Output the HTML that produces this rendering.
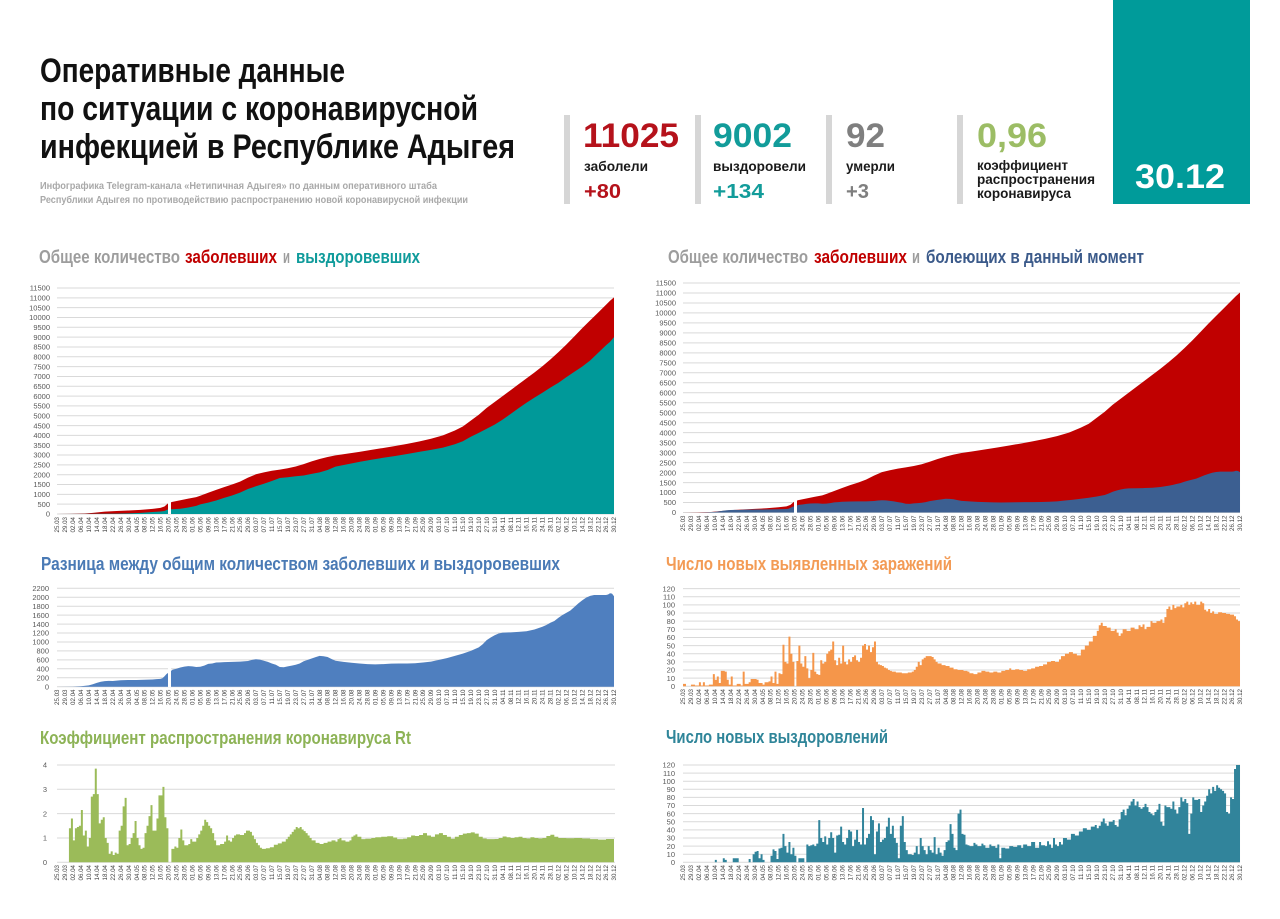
<!DOCTYPE html>
<html>
<head>
<meta charset="utf-8">
<style>
html,body{margin:0;padding:0;background:#fff;}
svg{display:block;}
text{font-family:"Liberation Sans","DejaVu Sans",sans-serif;}
</style>
</head>
<body>
<svg xmlns="http://www.w3.org/2000/svg" width="1280" height="919" viewBox="0 0 1280 919">
<rect x="0" y="0" width="1280" height="919" fill="#ffffff"/>

<!-- HEADER -->
<g font-weight="bold" fill="#111">
<text x="40" y="82" font-size="34" textLength="305" lengthAdjust="spacingAndGlyphs">Оперативные данные</text>
<text x="40" y="120" font-size="34" textLength="438" lengthAdjust="spacingAndGlyphs">по ситуации с коронавирусной</text>
<text x="40" y="158" font-size="34" textLength="475" lengthAdjust="spacingAndGlyphs">инфекцией в Республике Адыгея</text>
</g>
<g font-weight="bold" fill="#a9a9a9" font-size="10">
<text x="40" y="189" textLength="397" lengthAdjust="spacingAndGlyphs">Инфографика Telegram-канала «Нетипичная Адыгея» по данным оперативного штаба</text>
<text x="40" y="203" textLength="428" lengthAdjust="spacingAndGlyphs">Республики Адыгея по противодействию распространению новой коронавирусной инфекции</text>
</g>

<g fill="#d6d6d6">
<rect x="564" y="115" width="6" height="89"/>
<rect x="695" y="115" width="6" height="89"/>
<rect x="826" y="115" width="6" height="89"/>
<rect x="957" y="115" width="6" height="89"/>
</g>

<g font-weight="bold">
<text x="583" y="147" font-size="34" fill="#b5121b" textLength="96" lengthAdjust="spacingAndGlyphs">11025</text>
<text x="584" y="171" font-size="14" fill="#1a1a1a" textLength="64" lengthAdjust="spacingAndGlyphs">заболели</text>
<text x="713" y="147" font-size="34" fill="#129c9a" textLength="79" lengthAdjust="spacingAndGlyphs">9002</text>
<text x="713" y="171" font-size="14" fill="#1a1a1a" textLength="93" lengthAdjust="spacingAndGlyphs">выздоровели</text>
<text x="846" y="147" font-size="34" fill="#7f7f7f" textLength="39" lengthAdjust="spacingAndGlyphs">92</text>
<text x="846" y="171" font-size="14" fill="#1a1a1a" textLength="49" lengthAdjust="spacingAndGlyphs">умерли</text>
<text x="977" y="147" font-size="34" fill="#9cbd65" textLength="70" lengthAdjust="spacingAndGlyphs">0,96</text>
<text x="977" y="170" font-size="13.5" fill="#1a1a1a" textLength="91" lengthAdjust="spacingAndGlyphs">коэффициент</text>
<text x="977" y="184" font-size="13.5" fill="#1a1a1a" textLength="118" lengthAdjust="spacingAndGlyphs">распространения</text>
<text x="977" y="198" font-size="13.5" fill="#1a1a1a" textLength="94" lengthAdjust="spacingAndGlyphs">коронавируса</text>
</g>
<g font-size="20" font-weight="bold">
<text x="584" y="198" fill="#b5121b" textLength="37" lengthAdjust="spacingAndGlyphs">+80</text>
<text x="713" y="198" fill="#129c9a" textLength="51" lengthAdjust="spacingAndGlyphs">+134</text>
<text x="846" y="198" fill="#7f7f7f" textLength="23" lengthAdjust="spacingAndGlyphs">+3</text>
</g>
<rect x="1113" y="0" width="137" height="204" fill="#009b9a"/>
<text x="1135" y="188" font-size="34" font-weight="bold" fill="#ffffff" textLength="90" lengthAdjust="spacingAndGlyphs">30.12</text>

<!-- CHART TITLES -->
<g font-weight="bold" font-size="18">
<text x="39" y="263" fill="#9d9d9d" textLength="141" lengthAdjust="spacingAndGlyphs">Общее количество</text>
<text x="185" y="263" fill="#c00000" textLength="92" lengthAdjust="spacingAndGlyphs">заболевших</text>
<text x="283" y="263" fill="#9d9d9d" textLength="7" lengthAdjust="spacingAndGlyphs">и</text>
<text x="296" y="263" fill="#0f9b9b" textLength="124" lengthAdjust="spacingAndGlyphs">выздоровевших</text>

<text x="668" y="263" fill="#9d9d9d" textLength="140" lengthAdjust="spacingAndGlyphs">Общее количество</text>
<text x="814" y="263" fill="#c00000" textLength="93" lengthAdjust="spacingAndGlyphs">заболевших</text>
<text x="912" y="263" fill="#9d9d9d" textLength="8" lengthAdjust="spacingAndGlyphs">и</text>
<text x="926" y="263" fill="#3b5a8a" textLength="218" lengthAdjust="spacingAndGlyphs">болеющих в данный момент</text>

<text x="41" y="570" fill="#4a7ab5" textLength="519" lengthAdjust="spacingAndGlyphs">Разница между общим количеством заболевших и выздоровевших</text>
<text x="666" y="570" fill="#f39b55" textLength="286" lengthAdjust="spacingAndGlyphs">Число новых выявленных заражений</text>
<text x="40" y="744" fill="#8db356" textLength="371" lengthAdjust="spacingAndGlyphs">Коэффициент распространения коронавируса Rt</text>
<text x="666" y="743" fill="#2f8599" textLength="222" lengthAdjust="spacingAndGlyphs">Число новых выздоровлений</text>
</g>

<!-- GRIDLINES -->
<g stroke="#d9d9d9" stroke-width="1" fill="none">
<path d="M57,514H614M57,504.17H614M57,494.35H614M57,484.52H614M57,474.7H614M57,464.87H614M57,455.04H614M57,445.22H614M57,435.39H614M57,425.57H614M57,415.74H614M57,405.91H614M57,396.09H614M57,386.26H614M57,376.44H614M57,366.61H614M57,356.78H614M57,346.96H614M57,337.13H614M57,327.31H614M57,317.48H614M57,307.65H614M57,297.83H614M57,288H614"/>
<path d="M683,512.5H1240M683,502.52H1240M683,492.54H1240M683,482.57H1240M683,472.59H1240M683,462.61H1240M683,452.63H1240M683,442.65H1240M683,432.67H1240M683,422.7H1240M683,412.72H1240M683,402.74H1240M683,392.76H1240M683,382.78H1240M683,372.8H1240M683,362.82H1240M683,352.85H1240M683,342.87H1240M683,332.89H1240M683,322.91H1240M683,312.93H1240M683,302.96H1240M683,292.98H1240M683,283H1240"/>
<path d="M57,686.7H614M57,677.75H614M57,668.81H614M57,659.86H614M57,650.92H614M57,641.97H614M57,633.02H614M57,624.08H614M57,615.13H614M57,606.19H614M57,597.24H614M57,588.3H614"/>
<path d="M683,686.3H1240M683,678.16H1240M683,670.02H1240M683,661.87H1240M683,653.73H1240M683,645.59H1240M683,637.45H1240M683,629.31H1240M683,621.16H1240M683,613.02H1240M683,604.88H1240M683,596.74H1240M683,588.6H1240"/>
<path d="M57,862.3H615M57,837.97H615M57,813.64H615M57,789.31H615M57,764.98H615"/>
<path d="M683,862.3H1240M683,854.19H1240M683,846.08H1240M683,837.97H1240M683,829.86H1240M683,821.75H1240M683,813.64H1240M683,805.53H1240M683,797.42H1240M683,789.31H1240M683,781.2H1240M683,773.09H1240M683,764.98H1240"/>
</g>

<!-- CHART 1 -->
<g transform="translate(57,514) scale(1.9893,-0.019652)">
<path fill="#c00000" d="M0,0 L7,5 14,25 18,60 21,90 24,120 30,150 36,180 42,210 48,260 52,310 54,380 55,470 56,560 58,620 62,700 66,780 70,860 72,930 76,1080 80,1230 84,1370 88,1500 92,1650 96,1850 100,2020 104,2120 108,2200 112,2260 116,2330 120,2420 124,2540 128,2680 132,2800 136,2900 140,2980 146,3070 152,3160 158,3260 164,3360 170,3460 176,3570 182,3690 188,3830 194,4000 200,4250 204,4450 208,4750 212,5050 216,5400 220,5700 224,6000 228,6300 232,6600 236,6900 240,7200 244,7520 248,7860 252,8230 256,8620 260,9030 264,9450 268,9850 272,10250 276,10650 278,10850 280,11025 280,0 Z"/>
<path fill="#009999" d="M0,0 L14,5 30,20 36,30 42,55 48,100 52,130 54,150 56,240 58,240 62,270 66,330 70,415 72,490 76,580 80,690 84,820 88,940 92,1090 96,1275 100,1410 104,1540 108,1680 112,1830 116,1870 120,1920 124,1960 128,2040 132,2120 136,2240 140,2410 146,2530 152,2650 158,2760 164,2860 170,2950 176,3050 182,3160 188,3260 194,3380 200,3550 204,3700 208,3930 212,4130 216,4340 220,4550 224,4800 228,5090 232,5380 236,5660 240,5920 244,6170 248,6430 252,6670 256,6960 260,7230 264,7500 268,7810 272,8200 276,8590 278,8760 280,9002 280,0 Z"/>
</g>
<rect x="168" y="497" width="3" height="17" fill="#fff"/>

<!-- CHART 2 -->
<g transform="translate(683,512.5) scale(1.9893,-0.019957)">
<path fill="#c00000" d="M0,0 L7,5 14,25 18,60 21,90 24,120 30,150 36,180 42,210 48,260 52,310 54,380 55,470 56,560 58,620 62,700 66,780 70,860 72,930 76,1080 80,1230 84,1370 88,1500 92,1650 96,1850 100,2020 104,2120 108,2200 112,2260 116,2330 120,2420 124,2540 128,2680 132,2800 136,2900 140,2980 146,3070 152,3160 158,3260 164,3360 170,3460 176,3570 182,3690 188,3830 194,4000 200,4250 204,4450 208,4750 212,5050 216,5400 220,5700 224,6000 228,6300 232,6600 236,6900 240,7200 244,7520 248,7860 252,8230 256,8620 260,9030 264,9450 268,9850 272,10250 276,10650 278,10850 280,11025 280,0 Z"/>
<path fill="#3c5f91" d="M0,0 L8,3 12,10 16,30 18,55 20,85 22,110 24,125 26,130 28,128 30,135 32,145 36,150 40,150 44,155 48,160 50,168 52,175 53,190 54,230 55,280 56,315 57,340 58,380 60,400 62,430 64,450 66,460 68,455 70,440 72,445 74,470 76,510 78,520 80,540 82,545 84,550 88,555 92,560 96,575 98,600 100,615 102,605 104,580 106,555 108,520 110,490 112,440 114,435 116,455 118,470 120,490 122,520 124,570 126,600 128,630 130,660 132,690 134,680 136,665 138,620 140,580 144,555 148,535 152,520 156,505 160,500 164,505 168,515 172,520 176,520 180,525 184,540 188,560 192,600 196,640 200,690 204,740 208,800 210,840 212,880 214,950 216,1040 218,1100 220,1150 222,1190 224,1210 228,1215 232,1225 236,1240 240,1280 242,1310 244,1340 246,1380 248,1430 250,1470 252,1540 254,1600 256,1650 258,1700 260,1780 262,1860 264,1930 266,1990 268,2030 270,2050 272,2050 274,2050 276,2050 277,2060 278,2090 279,2080 280,2023 280,0 Z"/>
</g>
<rect x="794" y="496" width="3" height="17" fill="#fff"/>

<!-- CHART 3 -->
<g transform="translate(57,686.7) scale(1.9893,-0.04473)">
<path fill="#4f7fbf" d="M0,0 L8,3 12,10 16,30 18,55 20,85 22,110 24,125 26,130 28,128 30,135 32,145 36,150 40,150 44,155 48,160 50,168 52,175 53,190 54,230 55,280 56,315 57,340 58,380 60,400 62,430 64,450 66,460 68,455 70,440 72,445 74,470 76,510 78,520 80,540 82,545 84,550 88,555 92,560 96,575 98,600 100,615 102,605 104,580 106,555 108,520 110,490 112,440 114,435 116,455 118,470 120,490 122,520 124,570 126,600 128,630 130,660 132,690 134,680 136,665 138,620 140,580 144,555 148,535 152,520 156,505 160,500 164,505 168,515 172,520 176,520 180,525 184,540 188,560 192,600 196,640 200,690 204,740 208,800 210,840 212,880 214,950 216,1040 218,1100 220,1150 222,1190 224,1210 228,1215 232,1225 236,1240 240,1280 242,1310 244,1340 246,1380 248,1430 250,1470 252,1540 254,1600 256,1650 258,1700 260,1780 262,1860 264,1930 266,1990 268,2030 270,2050 272,2050 274,2050 276,2050 277,2060 278,2090 279,2080 280,2023 280,0 Z"/>
</g>
<rect x="168" y="668" width="3" height="19" fill="#fff"/>

<!-- CHART 4 -->
<g transform="translate(683,686.3) scale(1.9893,-0.8142)">
<path fill="#f5964a" d="M0,0 V3 H1.5 V0 H4 V2 H6 V1 H8 V5 H9 V1 H10 V5 H11 V1 H13 V2 H15 V15 H16 V8 H17 V12 H18 V4 H19 V19 H21 V18 H22 V8 H23 V2 H24 V12 H25 V1 H27 V3 H29 V1 H30 V18 H31 V3 H33 V5 H34 V9 H37 V8 H38 V4 H40 V2 H41 V5 H43 V6 H44 V12 H45 V4 H46 V18 H47 V3 H48 V16 H49 V15 H50 V51 H51 V30 H52 V28 H53 V61 H54 V40 H55 V30 H56 V0 H57 V31 H58 V50 H59 V28 H60 V24 H61 V37 H62 V22 H63 V10 H64 V20 H65 V41 H66 V18 H67 V15 H68 V14 H69 V32 H70 V28 H71 V30 H72 V40 H73 V43 H74 V45 H75 V55 H76 V32 H77 V26 H78 V35 H79 V28 H80 V50 H81 V30 H82 V27 H83 V33 H84 V30 H85 V36 H86 V38 H87 V32 H88 V30 H89 V35 H90 V50 H91 V52 H92 V45 H93 V50 H94 V42 H95 V48 H96 V55 H97 V30 H98 V27 H99 V26 H100 V25 H101 V23 H102 V22 H103 V20 H104 V19 H105 V18 H107 V17 H110 V16 H113 V17 H115 V18 H116 V20 H117 V24 H118 V30 H119 V26 H120 V33 H121 V35 H122 V37 H125 V36 H126 V33 H127 V30 H128 V28 H130 V26 H132 V25 H134 V23 H136 V21 H138 V20 H141 V19 H143 V18 H144 V16 H146 V15 H148 V17 H150 V19 H152 V18 H154 V17 H156 V18 H158 V17 H160 V19 H162 V20 H164 V22 H165 V20 H167 V21 H169 V20 H171 V19 H173 V21 H175 V22 H177 V24 H179 V25 H181 V27 H183 V30 H185 V31 H187 V30 H189 V33 H190 V37 H192 V40 H194 V42 H196 V40 H198 V38 H200 V45 H202 V50 H204 V55 H206 V62 H208 V68 H209 V75 H210 V78 H211 V74 H213 V72 H215 V68 H217 V70 H218 V66 H219 V62 H220 V65 H221 V70 H223 V68 H225 V72 H227 V70 H229 V75 H230 V73 H231 V76 H232 V70 H233 V73 H235 V80 H236 V78 H238 V80 H240 V82 H241 V78 H242 V85 H243 V95 H244 V98 H245 V94 H246 V100 H247 V96 H248 V98 H250 V100 H251 V97 H252 V102 H253 V104 H254 V100 H255 V103 H256 V101 H257 V104 H258 V100 H260 V104 H261 V102 H262 V94 H263 V92 H264 V95 H265 V90 H266 V92 H267 V89 H269 V91 H271 V90 H273 V89 H275 V88 H277 V86 H278 V82 H279 V80 H280 V0 Z"/>
</g>

<!-- CHART 5 -->
<g transform="translate(57,862.3) scale(1.9893,-0.2433)">
<path fill="#9bbb59" d="M6,0 V140 H7 V180 H8 V90 H9 V140 H10 V145 H11 V150 H12 V215 H13 V110 H14 V130 H15 V65 H16 V100 H17 V270 H18 V280 H19 V385 H20 V280 H21 V160 H22 V175 H23 V185 H24 V100 H25 V80 H26 V35 H27 V45 H28 V30 H29 V40 H30 V35 H31 V130 H32 V150 H33 V230 H34 V265 H35 V70 H36 V75 H37 V100 H38 V120 H39 V170 H40 V100 H41 V70 H42 V55 H43 V60 H44 V120 H45 V150 H46 V190 H47 V235 H48 V130 H49 V130 H50 V180 H51 V275 H53 V310 H54 V185 H55 V140 H56 V0 H57.5 V55 H59 V65 H60 V60 H61 V100 H62 V135 H63 V90 H64 V70 H66 V75 H67 V95 H68 V85 H70 V100 H71 V115 H72 V130 H73 V150 H74 V175 H75 V165 H76 V150 H77 V140 H78 V120 H79 V90 H80 V70 H82 V75 H84 V85 H85 V110 H86 V90 H87 V85 H88 V100 H89 V110 H90 V115 H92 V112 H94 V120 H95 V130 H97 V125 H98 V110 H99 V95 H100 V80 H101 V70 H102 V60 H103 V55 H105 V58 H107 V62 H109 V72 H111 V78 H113 V85 H115 V95 H116 V105 H117 V115 H118 V125 H119 V135 H120 V145 H121 V140 H122 V145 H123 V135 H124 V128 H125 V120 H126 V110 H127 V100 H128 V90 H130 V80 H132 V75 H134 V80 H136 V85 H138 V90 H140 V85 H141 V95 H142 V100 H143 V90 H145 V85 H147 V90 H148 V105 H149 V110 H150 V115 H151 V105 H153 V95 H155 V97 H158 V100 H160 V103 H163 V105 H166 V107 H169 V102 H171 V95 H174 V97 H176 V103 H178 V110 H180 V108 H182 V112 H184 V120 H186 V110 H188 V105 H190 V115 H192 V120 H194 V112 H196 V105 H198 V97 H200 V105 H202 V112 H204 V118 H206 V120 H208 V123 H210 V118 H212 V105 H214 V98 H216 V95 H220 V96 H222 V100 H224 V106 H226 V103 H228 V100 H230 V103 H232 V105 H234 V100 H236 V98 H238 V103 H240 V100 H242 V98 H244 V100 H246 V108 H248 V113 H250 V105 H252 V100 H256 V99 H260 V100 H264 V98 H268 V95 H272 V93 H276 V96 H280 V0 Z"/>
</g>

<!-- CHART 6 -->
<g transform="translate(683,862.3) scale(1.9893,-0.811)">
<path fill="#31849b" d="M16,0 V3 H17 V0 H20 V5 H21 V3 H22 V0 H25 V5 H28 V0 H33 V4 H34 V0 H35 V10 H36 V13 H37 V14 H38 V5 H39 V10 H40 V3 H41 V0 H44 V8 H45 V16 H46 V14 H47 V4 H48 V17 H49 V18 H50 V35 H51 V20 H52 V12 H53 V25 H54 V10 H55 V18 H56 V8 H57 V0 H58 V5 H61 V0 H62 V22 H63 V20 H64 V21 H65 V22 H66 V20 H67 V23 H68 V52 H69 V30 H70 V25 H71 V32 H72 V22 H73 V30 H74 V37 H75 V30 H76 V12 H77 V33 H78 V34 H79 V44 H80 V25 H81 V22 H82 V30 H83 V40 H84 V38 H85 V20 H86 V28 H87 V40 H88 V25 H89 V22 H90 V67 H91 V22 H92 V30 H93 V35 H94 V57 H95 V52 H96 V10 H97 V38 H98 V48 H99 V25 H100 V28 H101 V30 H102 V44 H103 V55 H104 V35 H105 V45 H106 V30 H107 V24 H108 V5 H109 V45 H110 V57 H111 V25 H112 V15 H113 V10 H115 V9 H116 V12 H117 V20 H118 V10 H119 V30 H120 V20 H121 V15 H122 V10 H123 V20 H124 V15 H125 V12 H126 V31 H127 V10 H128 V18 H129 V12 H130 V8 H131 V15 H132 V25 H133 V27 H134 V47 H135 V35 H136 V18 H137 V15 H138 V60 H139 V65 H140 V35 H141 V34 H142 V22 H143 V21 H144 V20 H146 V24 H147 V22 H148 V20 H150 V23 H151 V21 H152 V18 H154 V22 H155 V20 H157 V18 H158 V22 H159 V5 H160 V18 H162 V17 H164 V20 H166 V19 H168 V21 H170 V18 H171 V22 H173 V20 H175 V25 H177 V18 H179 V25 H180 V21 H182 V20 H183 V26 H184 V22 H185 V18 H186 V30 H187 V22 H188 V20 H189 V25 H190 V22 H191 V30 H193 V28 H195 V35 H197 V33 H199 V38 H201 V42 H203 V40 H205 V44 H207 V46 H208 V42 H209 V45 H210 V50 H211 V54 H212 V48 H213 V45 H214 V50 H216 V52 H217 V46 H218 V44 H219 V53 H220 V62 H221 V65 H222 V58 H223 V66 H224 V70 H225 V75 H226 V78 H227 V70 H228 V75 H229 V68 H230 V66 H231 V68 H232 V72 H233 V68 H234 V62 H235 V60 H236 V58 H237 V62 H238 V65 H239 V72 H240 V50 H241 V45 H242 V70 H243 V68 H245 V66 H246 V75 H247 V65 H248 V60 H249 V68 H250 V80 H251 V75 H252 V78 H253 V73 H254 V35 H255 V60 H256 V80 H257 V77 H259 V78 H260 V62 H261 V70 H262 V75 H263 V82 H264 V90 H265 V85 H266 V93 H267 V88 H268 V95 H269 V92 H270 V90 H271 V88 H272 V85 H273 V62 H274 V60 H275 V80 H276 V78 H277 V115 H278 V120 H280 V0 Z"/>
</g>

<!-- Y LABELS -->
<g font-size="7.5" fill="#595959" text-anchor="end">
<text x="50" y="516.7">0</text><text x="50" y="506.9">500</text><text x="50" y="497">1000</text><text x="50" y="487.2">1500</text><text x="50" y="477.4">2000</text><text x="50" y="467.6">2500</text><text x="50" y="457.7">3000</text><text x="50" y="447.9">3500</text><text x="50" y="438.1">4000</text><text x="50" y="428.3">4500</text><text x="50" y="418.4">5000</text><text x="50" y="408.6">5500</text><text x="50" y="398.8">6000</text><text x="50" y="389">6500</text><text x="50" y="379.1">7000</text><text x="50" y="369.3">7500</text><text x="50" y="359.5">8000</text><text x="50" y="349.7">8500</text><text x="50" y="339.8">9000</text><text x="50" y="330">9500</text><text x="50" y="320.2">10000</text><text x="50" y="310.4">10500</text><text x="50" y="300.5">11000</text><text x="50" y="290.7">11500</text>

<text x="676" y="515.2">0</text><text x="676" y="505.2">500</text><text x="676" y="495.2">1000</text><text x="676" y="485.3">1500</text><text x="676" y="475.3">2000</text><text x="676" y="465.3">2500</text><text x="676" y="455.3">3000</text><text x="676" y="445.4">3500</text><text x="676" y="435.4">4000</text><text x="676" y="425.4">4500</text><text x="676" y="415.4">5000</text><text x="676" y="405.4">5500</text><text x="676" y="395.5">6000</text><text x="676" y="385.5">6500</text><text x="676" y="375.5">7000</text><text x="676" y="365.5">7500</text><text x="676" y="355.6">8000</text><text x="676" y="345.6">8500</text><text x="676" y="335.6">9000</text><text x="676" y="325.6">9500</text><text x="676" y="315.6">10000</text><text x="676" y="305.7">10500</text><text x="676" y="295.7">11000</text><text x="676" y="285.7">11500</text>

<text x="49" y="689.4">0</text><text x="49" y="680.5">200</text><text x="49" y="671.5">400</text><text x="49" y="662.6">600</text><text x="49" y="653.6">800</text><text x="49" y="644.7">1000</text><text x="49" y="635.7">1200</text><text x="49" y="626.8">1400</text><text x="49" y="617.8">1600</text><text x="49" y="608.9">1800</text><text x="49" y="599.9">2000</text><text x="49" y="591">2200</text>

<text x="675" y="689">0</text><text x="675" y="680.9">10</text><text x="675" y="672.7">20</text><text x="675" y="664.6">30</text><text x="675" y="656.4">40</text><text x="675" y="648.3">50</text><text x="675" y="640.2">60</text><text x="675" y="632">70</text><text x="675" y="623.9">80</text><text x="675" y="615.7">90</text><text x="675" y="607.6">100</text><text x="675" y="599.4">110</text><text x="675" y="591.3">120</text>

<text x="47" y="865">0</text><text x="47" y="840.7">1</text><text x="47" y="816.3">2</text><text x="47" y="792">3</text><text x="47" y="767.7">4</text>

<text x="675" y="865">0</text><text x="675" y="856.9">10</text><text x="675" y="848.8">20</text><text x="675" y="840.7">30</text><text x="675" y="832.6">40</text><text x="675" y="824.5">50</text><text x="675" y="816.3">60</text><text x="675" y="808.2">70</text><text x="675" y="800.1">80</text><text x="675" y="792">90</text><text x="675" y="783.9">100</text><text x="675" y="775.8">110</text><text x="675" y="767.7">120</text>
</g>

<!-- X LABELS -->
<g font-size="6.2" fill="#444" text-anchor="end">
<g transform="translate(57,517) rotate(-90)"><text y="2.2">25.03</text><text y="10.16">29.03</text><text y="18.11">02.04</text><text y="26.07">06.04</text><text y="34.03">10.04</text><text y="41.99">14.04</text><text y="49.94">18.04</text><text y="57.9">22.04</text><text y="65.86">26.04</text><text y="73.81">30.04</text><text y="81.77">04.05</text><text y="89.73">08.05</text><text y="97.68">12.05</text><text y="105.64">16.05</text><text y="113.6">20.05</text><text y="121.56">24.05</text><text y="129.51">28.05</text><text y="137.47">01.06</text><text y="145.43">05.06</text><text y="153.38">09.06</text><text y="161.34">13.06</text><text y="169.3">17.06</text><text y="177.25">21.06</text><text y="185.21">25.06</text><text y="193.17">29.06</text><text y="201.13">03.07</text><text y="209.08">07.07</text><text y="217.04">11.07</text><text y="225">15.07</text><text y="232.95">19.07</text><text y="240.91">23.07</text><text y="248.87">27.07</text><text y="256.82">31.07</text><text y="264.78">04.08</text><text y="272.74">08.08</text><text y="280.7">12.08</text><text y="288.65">16.08</text><text y="296.61">20.08</text><text y="304.57">24.08</text><text y="312.52">28.08</text><text y="320.48">01.09</text><text y="328.44">05.09</text><text y="336.39">09.09</text><text y="344.35">13.09</text><text y="352.31">17.09</text><text y="360.27">21.09</text><text y="368.22">25.09</text><text y="376.18">29.09</text><text y="384.14">03.10</text><text y="392.09">07.10</text><text y="400.05">11.10</text><text y="408.01">15.10</text><text y="415.96">19.10</text><text y="423.92">23.10</text><text y="431.88">27.10</text><text y="439.84">31.10</text><text y="447.79">04.11</text><text y="455.75">08.11</text><text y="463.71">12.11</text><text y="471.66">16.11</text><text y="479.62">20.11</text><text y="487.58">24.11</text><text y="495.53">28.11</text><text y="503.49">02.12</text><text y="511.45">06.12</text><text y="519.41">10.12</text><text y="527.36">14.12</text><text y="535.32">18.12</text><text y="543.28">22.12</text><text y="551.23">26.12</text><text y="559.19">30.12</text></g>

<g transform="translate(683,515.5) rotate(-90)"><text y="2.2">25.03</text><text y="10.16">29.03</text><text y="18.11">02.04</text><text y="26.07">06.04</text><text y="34.03">10.04</text><text y="41.99">14.04</text><text y="49.94">18.04</text><text y="57.9">22.04</text><text y="65.86">26.04</text><text y="73.81">30.04</text><text y="81.77">04.05</text><text y="89.73">08.05</text><text y="97.68">12.05</text><text y="105.64">16.05</text><text y="113.6">20.05</text><text y="121.56">24.05</text><text y="129.51">28.05</text><text y="137.47">01.06</text><text y="145.43">05.06</text><text y="153.38">09.06</text><text y="161.34">13.06</text><text y="169.3">17.06</text><text y="177.25">21.06</text><text y="185.21">25.06</text><text y="193.17">29.06</text><text y="201.13">03.07</text><text y="209.08">07.07</text><text y="217.04">11.07</text><text y="225">15.07</text><text y="232.95">19.07</text><text y="240.91">23.07</text><text y="248.87">27.07</text><text y="256.82">31.07</text><text y="264.78">04.08</text><text y="272.74">08.08</text><text y="280.7">12.08</text><text y="288.65">16.08</text><text y="296.61">20.08</text><text y="304.57">24.08</text><text y="312.52">28.08</text><text y="320.48">01.09</text><text y="328.44">05.09</text><text y="336.39">09.09</text><text y="344.35">13.09</text><text y="352.31">17.09</text><text y="360.27">21.09</text><text y="368.22">25.09</text><text y="376.18">29.09</text><text y="384.14">03.10</text><text y="392.09">07.10</text><text y="400.05">11.10</text><text y="408.01">15.10</text><text y="415.96">19.10</text><text y="423.92">23.10</text><text y="431.88">27.10</text><text y="439.84">31.10</text><text y="447.79">04.11</text><text y="455.75">08.11</text><text y="463.71">12.11</text><text y="471.66">16.11</text><text y="479.62">20.11</text><text y="487.58">24.11</text><text y="495.53">28.11</text><text y="503.49">02.12</text><text y="511.45">06.12</text><text y="519.41">10.12</text><text y="527.36">14.12</text><text y="535.32">18.12</text><text y="543.28">22.12</text><text y="551.23">26.12</text><text y="559.19">30.12</text></g>

<g transform="translate(57,689.5) rotate(-90)"><text y="2.2">25.03</text><text y="10.16">29.03</text><text y="18.11">02.04</text><text y="26.07">06.04</text><text y="34.03">10.04</text><text y="41.99">14.04</text><text y="49.94">18.04</text><text y="57.9">22.04</text><text y="65.86">26.04</text><text y="73.81">30.04</text><text y="81.77">04.05</text><text y="89.73">08.05</text><text y="97.68">12.05</text><text y="105.64">16.05</text><text y="113.6">20.05</text><text y="121.56">24.05</text><text y="129.51">28.05</text><text y="137.47">01.06</text><text y="145.43">05.06</text><text y="153.38">09.06</text><text y="161.34">13.06</text><text y="169.3">17.06</text><text y="177.25">21.06</text><text y="185.21">25.06</text><text y="193.17">29.06</text><text y="201.13">03.07</text><text y="209.08">07.07</text><text y="217.04">11.07</text><text y="225">15.07</text><text y="232.95">19.07</text><text y="240.91">23.07</text><text y="248.87">27.07</text><text y="256.82">31.07</text><text y="264.78">04.08</text><text y="272.74">08.08</text><text y="280.7">12.08</text><text y="288.65">16.08</text><text y="296.61">20.08</text><text y="304.57">24.08</text><text y="312.52">28.08</text><text y="320.48">01.09</text><text y="328.44">05.09</text><text y="336.39">09.09</text><text y="344.35">13.09</text><text y="352.31">17.09</text><text y="360.27">21.09</text><text y="368.22">25.09</text><text y="376.18">29.09</text><text y="384.14">03.10</text><text y="392.09">07.10</text><text y="400.05">11.10</text><text y="408.01">15.10</text><text y="415.96">19.10</text><text y="423.92">23.10</text><text y="431.88">27.10</text><text y="439.84">31.10</text><text y="447.79">04.11</text><text y="455.75">08.11</text><text y="463.71">12.11</text><text y="471.66">16.11</text><text y="479.62">20.11</text><text y="487.58">24.11</text><text y="495.53">28.11</text><text y="503.49">02.12</text><text y="511.45">06.12</text><text y="519.41">10.12</text><text y="527.36">14.12</text><text y="535.32">18.12</text><text y="543.28">22.12</text><text y="551.23">26.12</text><text y="559.19">30.12</text></g>

<g transform="translate(683,689) rotate(-90)"><text y="2.2">25.03</text><text y="10.16">29.03</text><text y="18.11">02.04</text><text y="26.07">06.04</text><text y="34.03">10.04</text><text y="41.99">14.04</text><text y="49.94">18.04</text><text y="57.9">22.04</text><text y="65.86">26.04</text><text y="73.81">30.04</text><text y="81.77">04.05</text><text y="89.73">08.05</text><text y="97.68">12.05</text><text y="105.64">16.05</text><text y="113.6">20.05</text><text y="121.56">24.05</text><text y="129.51">28.05</text><text y="137.47">01.06</text><text y="145.43">05.06</text><text y="153.38">09.06</text><text y="161.34">13.06</text><text y="169.3">17.06</text><text y="177.25">21.06</text><text y="185.21">25.06</text><text y="193.17">29.06</text><text y="201.13">03.07</text><text y="209.08">07.07</text><text y="217.04">11.07</text><text y="225">15.07</text><text y="232.95">19.07</text><text y="240.91">23.07</text><text y="248.87">27.07</text><text y="256.82">31.07</text><text y="264.78">04.08</text><text y="272.74">08.08</text><text y="280.7">12.08</text><text y="288.65">16.08</text><text y="296.61">20.08</text><text y="304.57">24.08</text><text y="312.52">28.08</text><text y="320.48">01.09</text><text y="328.44">05.09</text><text y="336.39">09.09</text><text y="344.35">13.09</text><text y="352.31">17.09</text><text y="360.27">21.09</text><text y="368.22">25.09</text><text y="376.18">29.09</text><text y="384.14">03.10</text><text y="392.09">07.10</text><text y="400.05">11.10</text><text y="408.01">15.10</text><text y="415.96">19.10</text><text y="423.92">23.10</text><text y="431.88">27.10</text><text y="439.84">31.10</text><text y="447.79">04.11</text><text y="455.75">08.11</text><text y="463.71">12.11</text><text y="471.66">16.11</text><text y="479.62">20.11</text><text y="487.58">24.11</text><text y="495.53">28.11</text><text y="503.49">02.12</text><text y="511.45">06.12</text><text y="519.41">10.12</text><text y="527.36">14.12</text><text y="535.32">18.12</text><text y="543.28">22.12</text><text y="551.23">26.12</text><text y="559.19">30.12</text></g>

<g transform="translate(57,865) rotate(-90)"><text y="2.2">25.03</text><text y="10.16">29.03</text><text y="18.11">02.04</text><text y="26.07">06.04</text><text y="34.03">10.04</text><text y="41.99">14.04</text><text y="49.94">18.04</text><text y="57.9">22.04</text><text y="65.86">26.04</text><text y="73.81">30.04</text><text y="81.77">04.05</text><text y="89.73">08.05</text><text y="97.68">12.05</text><text y="105.64">16.05</text><text y="113.6">20.05</text><text y="121.56">24.05</text><text y="129.51">28.05</text><text y="137.47">01.06</text><text y="145.43">05.06</text><text y="153.38">09.06</text><text y="161.34">13.06</text><text y="169.3">17.06</text><text y="177.25">21.06</text><text y="185.21">25.06</text><text y="193.17">29.06</text><text y="201.13">03.07</text><text y="209.08">07.07</text><text y="217.04">11.07</text><text y="225">15.07</text><text y="232.95">19.07</text><text y="240.91">23.07</text><text y="248.87">27.07</text><text y="256.82">31.07</text><text y="264.78">04.08</text><text y="272.74">08.08</text><text y="280.7">12.08</text><text y="288.65">16.08</text><text y="296.61">20.08</text><text y="304.57">24.08</text><text y="312.52">28.08</text><text y="320.48">01.09</text><text y="328.44">05.09</text><text y="336.39">09.09</text><text y="344.35">13.09</text><text y="352.31">17.09</text><text y="360.27">21.09</text><text y="368.22">25.09</text><text y="376.18">29.09</text><text y="384.14">03.10</text><text y="392.09">07.10</text><text y="400.05">11.10</text><text y="408.01">15.10</text><text y="415.96">19.10</text><text y="423.92">23.10</text><text y="431.88">27.10</text><text y="439.84">31.10</text><text y="447.79">04.11</text><text y="455.75">08.11</text><text y="463.71">12.11</text><text y="471.66">16.11</text><text y="479.62">20.11</text><text y="487.58">24.11</text><text y="495.53">28.11</text><text y="503.49">02.12</text><text y="511.45">06.12</text><text y="519.41">10.12</text><text y="527.36">14.12</text><text y="535.32">18.12</text><text y="543.28">22.12</text><text y="551.23">26.12</text><text y="559.19">30.12</text></g>

<g transform="translate(683,865) rotate(-90)"><text y="2.2">25.03</text><text y="10.16">29.03</text><text y="18.11">02.04</text><text y="26.07">06.04</text><text y="34.03">10.04</text><text y="41.99">14.04</text><text y="49.94">18.04</text><text y="57.9">22.04</text><text y="65.86">26.04</text><text y="73.81">30.04</text><text y="81.77">04.05</text><text y="89.73">08.05</text><text y="97.68">12.05</text><text y="105.64">16.05</text><text y="113.6">20.05</text><text y="121.56">24.05</text><text y="129.51">28.05</text><text y="137.47">01.06</text><text y="145.43">05.06</text><text y="153.38">09.06</text><text y="161.34">13.06</text><text y="169.3">17.06</text><text y="177.25">21.06</text><text y="185.21">25.06</text><text y="193.17">29.06</text><text y="201.13">03.07</text><text y="209.08">07.07</text><text y="217.04">11.07</text><text y="225">15.07</text><text y="232.95">19.07</text><text y="240.91">23.07</text><text y="248.87">27.07</text><text y="256.82">31.07</text><text y="264.78">04.08</text><text y="272.74">08.08</text><text y="280.7">12.08</text><text y="288.65">16.08</text><text y="296.61">20.08</text><text y="304.57">24.08</text><text y="312.52">28.08</text><text y="320.48">01.09</text><text y="328.44">05.09</text><text y="336.39">09.09</text><text y="344.35">13.09</text><text y="352.31">17.09</text><text y="360.27">21.09</text><text y="368.22">25.09</text><text y="376.18">29.09</text><text y="384.14">03.10</text><text y="392.09">07.10</text><text y="400.05">11.10</text><text y="408.01">15.10</text><text y="415.96">19.10</text><text y="423.92">23.10</text><text y="431.88">27.10</text><text y="439.84">31.10</text><text y="447.79">04.11</text><text y="455.75">08.11</text><text y="463.71">12.11</text><text y="471.66">16.11</text><text y="479.62">20.11</text><text y="487.58">24.11</text><text y="495.53">28.11</text><text y="503.49">02.12</text><text y="511.45">06.12</text><text y="519.41">10.12</text><text y="527.36">14.12</text><text y="535.32">18.12</text><text y="543.28">22.12</text><text y="551.23">26.12</text><text y="559.19">30.12</text></g>
</g>
</svg>
</body>
</html>
